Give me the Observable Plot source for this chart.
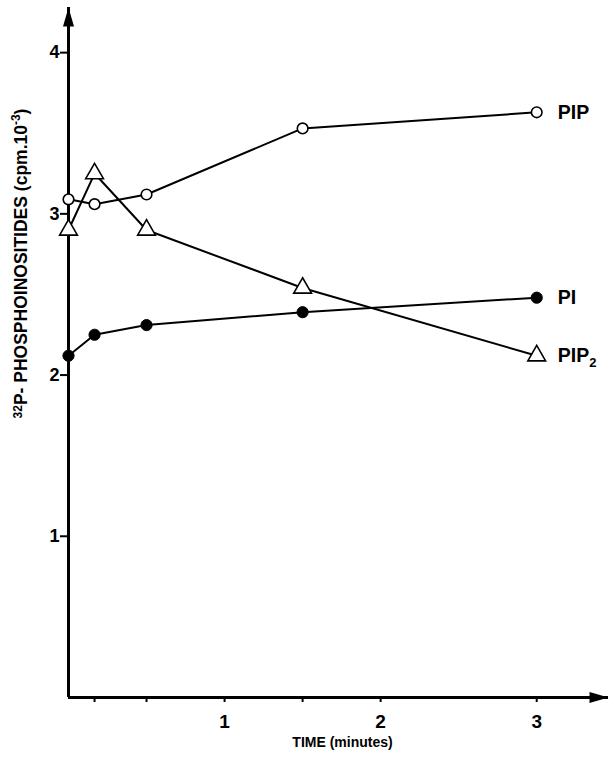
<!DOCTYPE html>
<html>
<head>
<meta charset="utf-8">
<script src="https://cdn.jsdelivr.net/npm/d3@7"></script>
<script src="https://cdn.jsdelivr.net/npm/@observablehq/plot@0.6"></script>
<style>
  html, body { margin: 0; padding: 0; background: #fff; }
  svg { font-family: "Liberation Sans", Arial, sans-serif; }
</style>
</head>
<body>
<div id="chart"></div>
<script>
// Data (time in minutes, values in cpm x 10^-3)
const time = [0, 0.167, 0.5, 1.5, 3];
const pip  = [3.09, 3.06, 3.12, 3.53, 3.63];
const pip2 = [2.90, 3.25, 2.90, 2.54, 2.12];
const pi   = [2.12, 2.25, 2.31, 2.39, 2.48];
const seriesNames = ["PIP", "PI", "PIP2"];
const xTicks = [0.167, 0.5, 1, 1.5, 2, 3];
const xTickLabels = [1, 2, 3];
const yTicks = [1, 2, 3, 4];
const xMax = 3.46, yMax = 4.28;
const xTitle = "TIME (minutes)";
const yTitle = "P- PHOSPHOINOSITIDES (cpm.10-3)";

const rows = (name, vals) => time.map((t, i) => ({series: name, t, v: vals[i]}));
const dPIP = rows(seriesNames[0], pip), dPI = rows(seriesNames[1], pi), dPIP2 = rows(seriesNames[2], pip2);
const lastPoints = [dPIP[4], dPI[4], dPIP2[4]];

const arrowHead = {
  draw(ctx) { ctx.moveTo(0, 0); ctx.lineTo(-5.5, 19); ctx.lineTo(5.5, 19); ctx.closePath(); }
};

const chart = Plot.plot({
  width: 610,
  height: 759,
  marginLeft: 68,
  marginRight: 2,
  marginTop: 7,
  marginBottom: 62,
  x: {domain: [0, xMax]},
  y: {domain: [0, yMax]},
  marks: [
    Plot.ruleX([0], {stroke: "black", strokeWidth: 3}),
    Plot.ruleY([0], {stroke: "black", strokeWidth: 3}),
    Plot.dot([{x: xMax, y: 0}], {x: "x", y: "y", symbol: arrowHead, fill: "black", stroke: "none", rotate: 90}),
    Plot.dot([{x: 0, y: yMax}], {x: "x", y: "y", symbol: arrowHead, fill: "black", stroke: "none"}),
    Plot.axisY({ticks: yTicks, tickSize: 8, tickPadding: 1, strokeWidth: 2, fontSize: 18, fontWeight: "bold", label: null,
      tickFormat: d => String(d)}),
    Plot.axisX({ticks: xTicks, tickSize: 5, tickPadding: 12, strokeWidth: 2, fontSize: 19, fontWeight: "bold", label: null,
      tickFormat: d => xTickLabels.includes(d) ? String(d) : ""}),
    Plot.line(dPIP, {x: "t", y: "v", stroke: "black", strokeWidth: 2}),
    Plot.line(dPI, {x: "t", y: "v", stroke: "black", strokeWidth: 2}),
    Plot.line(dPIP2, {x: "t", y: "v", stroke: "black", strokeWidth: 2}),
    Plot.dot(dPIP, {x: "t", y: "v", r: 5.3, fill: "white", stroke: "black", strokeWidth: 1.6}),
    Plot.dot(dPI, {x: "t", y: "v", r: 5.6, fill: "black", stroke: "black", strokeWidth: 1}),
    Plot.dot(dPIP2, {x: "t", y: "v", symbol: "triangle", r: 6.6, fill: "white", stroke: "black", strokeWidth: 1.6}),
    Plot.text(lastPoints, {x: "t", y: "v", text: "series", textAnchor: "start", dx: 21, fontSize: 19.5, fontWeight: "bold", fill: "black"}),
    Plot.text([xTitle], {frameAnchor: "bottom", textAnchor: "middle", dx: 4, dy: 49, fontSize: 14, fontWeight: "bold", fill: "black"}),
    Plot.text([yTitle], {frameAnchor: "left", textAnchor: "middle", rotate: -90, dx: -47, dy: -89, fontSize: 17.5, fontWeight: "bold", fill: "black"})
  ]
});

// superscripts / subscripts
d3.select(chart).selectAll("text").each(function() {
  const t = d3.select(this);
  if (!t.selectAll("tspan").empty()) return;
  const s = t.text();
  if (s === "PIP2") {
    t.text("PIP");
    t.append("tspan").attr("font-size", "13").attr("dy", "5").text("2");
  } else if (s === yTitle) {
    t.text(null);
    t.append("tspan").attr("font-size", "12").attr("dy", "-5").text("32");
    t.append("tspan").attr("dy", "5").text("P- PHOSPHOINOSITIDES (cpm.10");
    t.append("tspan").attr("font-size", "12").attr("dy", "-7").text("-3");
    t.append("tspan").attr("dy", "7").text(")");
  }
});

document.getElementById("chart").appendChild(chart);
</script>
</body>
</html>
